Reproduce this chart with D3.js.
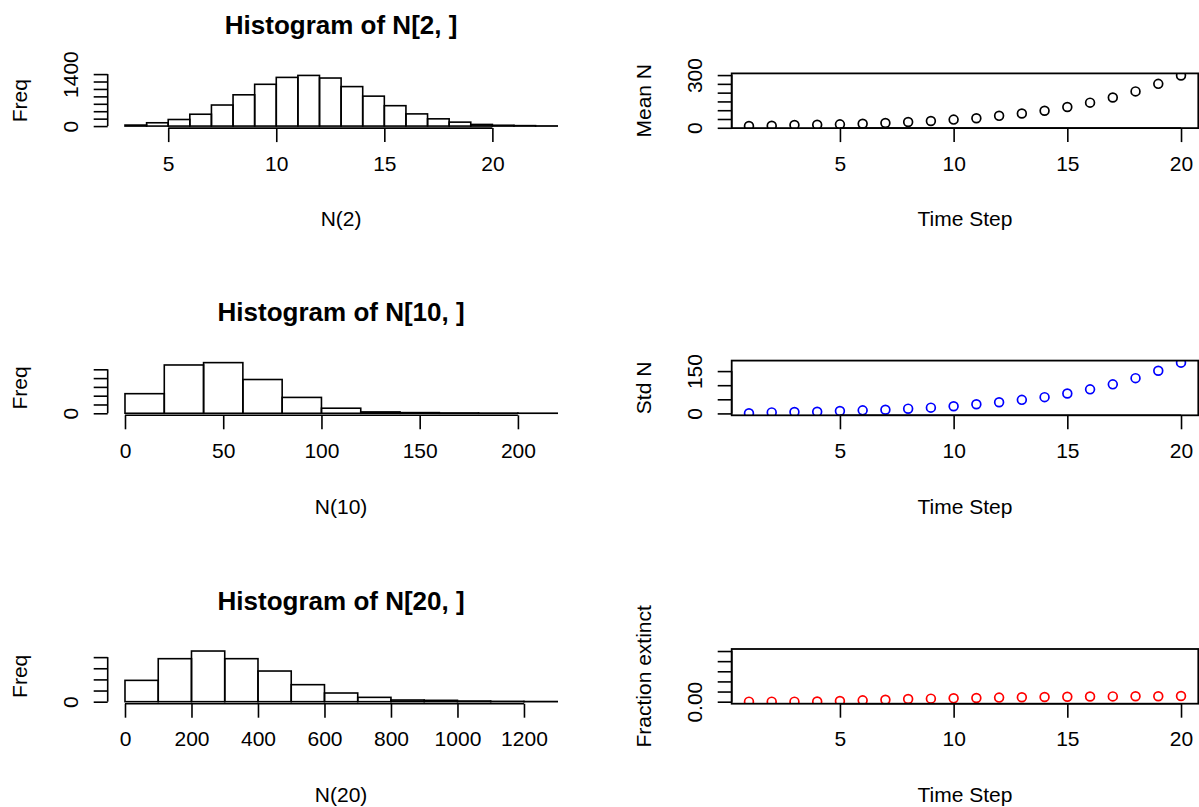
<!DOCTYPE html>
<html>
<head>
<meta charset="utf-8">
<script src="https://cdn.jsdelivr.net/npm/d3@7"></script>
<style>
  body { margin: 0; background: #fff; }
  svg { display: block; font-family: 'Liberation Sans', Arial, Helvetica, sans-serif; }
</style>
</head>
<body>
<script>
// histogram of N at time step 2, 10 and 20 (bin edges + counts)
const breaks2 = [3, 4, 5, 6, 7, 8, 9, 10, 11, 12, 13, 14, 15, 16, 17, 18, 19, 20, 21, 22, 23]
const counts2 = [27, 89, 177, 319, 567, 842, 1125, 1311, 1364, 1294, 1063, 806, 549, 328, 195, 106, 44, 22, 12, 4]
const breaks10 = [0, 20, 40, 60, 80, 100, 120, 140, 160, 180, 200, 220]
const counts10 = [1114, 2746, 2880, 1920, 902, 288, 77, 38, 19, 10, 4]
const breaks20 = [0, 100, 200, 300, 400, 500, 600, 700, 800, 900, 1000, 1100, 1200, 1300]
const counts20 = [957, 1930, 2274, 1930, 1376, 763, 389, 194, 75, 60, 30, 15, 7]

// summary per time step
const timeSteps = [1, 2, 3, 4, 5, 6, 7, 8, 9, 10, 11, 12, 13, 14, 15, 16, 17, 18, 19, 20]
const meanN = [9.7, 11.6, 15.5, 17.4, 19.4, 23, 27, 33, 39, 46.5, 54, 68, 81, 97, 118, 143, 172, 207, 250, 298]
const stdN = [0.5, 3.6, 4.8, 6, 8.4, 10.8, 13.2, 16.8, 20.4, 25.2, 32.4, 39.6, 48, 57.6, 70.8, 85.2, 103, 125, 151, 180]
const fracExtinct = [0, 0, 0, 0.0005, 0.003, 0.0065, 0.0095, 0.013, 0.015, 0.0165, 0.018, 0.02, 0.0215, 0.023, 0.0245, 0.0255, 0.026, 0.0265, 0.027, 0.028]

// ticks and which tick labels R managed to print
const xTicks2 = [5, 10, 15, 20]
const yTicks2 = [0, 200, 400, 600, 800, 1000, 1200, 1400]
const yLabels2 = [0, 1400]
const xTicks10 = [0, 50, 100, 150, 200]
const yTicks10 = [0, 500, 1000, 1500, 2000, 2500]
const yLabels10 = [0]
const xTicks20 = [0, 200, 400, 600, 800, 1000, 1200]
const yTicks20 = [0, 500, 1000, 1500, 2000]
const yLabels20 = [0]
const xTicksTime = [5, 10, 15, 20]
const yTicksMean = [0, 50, 100, 150, 200, 250, 300]
const yLabelsMean = [0, 300]
const yTicksStd = [0, 50, 100, 150]
const yLabelsStd = [0, 150]
const yTicksFrac = [0, 0.05, 0.1, 0.15, 0.2, 0.25]
const yLabelsFrac = [0]
const fracLimits = [0, 0.25]

const W = 1199, H = 807
const fs = 21, titleFs = 26
const tick = 14
const lw = 1.6
const rowTops = [73.4, 360.6, 649]
const plotH = 54.7
const leftCol = { x0: 107.7, x1: 574.5 }
const rightCol = { x0: 731.7, x1: 1198.3 }

const svg = d3.select('body').append('svg')
  .attr('width', W)
  .attr('height', H)

svg.append('rect').attr('width', W).attr('height', H).attr('fill', '#fff')

// R style 4% padding of the axis range
const pad = ([a, b]) => [a - 0.04 * (b - a), b + 0.04 * (b - a)]

function drawAxes(g, x, y, xt, yt, yShown, yFmt, box) {
  const bottom = y.range()[0], left = x.range()[0]
  // x axis: line only from first to last tick, like base R
  const ax = g.append('g')
    .attr('transform', `translate(0,${bottom})`)
    .call(d3.axisBottom(x).tickValues(xt).tickFormat(d3.format('d'))
      .tickSizeInner(tick).tickSizeOuter(0).tickPadding(35 - 0.35 * fs - tick))
  ax.select('.domain').remove()
  ax.append('line')
    .attr('x1', x(xt[0])).attr('x2', x(xt[xt.length - 1]))
    .attr('stroke', '#000').attr('stroke-width', lw)
  ax.selectAll('.tick line').attr('stroke', '#000').attr('stroke-width', lw)
  ax.selectAll('.tick text').attr('fill', '#000').style('font-size', fs + 'px').style('font-family', null)

  // y axis, labels parallel to the axis
  const ay = g.append('g')
    .attr('transform', `translate(${left},0)`)
    .call(d3.axisLeft(y).tickValues(yt).tickSizeInner(tick).tickSizeOuter(0)
      .tickFormat(d => yShown.includes(d) ? yFmt(d) : ''))
  ay.select('.domain').remove()
  ay.append('line')
    .attr('y1', y(yt[0])).attr('y2', y(yt[yt.length - 1]))
    .attr('stroke', '#000').attr('stroke-width', lw)
  ay.selectAll('.tick line').attr('stroke', '#000').attr('stroke-width', lw)
  ay.selectAll('.tick text')
    .attr('x', null).attr('dy', '0.35em')
    .attr('text-anchor', 'middle')
    .attr('transform', 'translate(-36.7,0) rotate(-90)')
    .attr('fill', '#000').style('font-size', fs + 'px').style('font-family', null)

  if (box) {
    g.append('rect')
      .attr('x', x.range()[0]).attr('y', y.range()[1])
      .attr('width', x.range()[1] - x.range()[0])
      .attr('height', y.range()[0] - y.range()[1])
      .attr('fill', 'none').attr('stroke', '#000').attr('stroke-width', 1.8)
  }
}

function labels(g, x, y, xlab, ylab, main) {
  const bottom = y.range()[0], top = y.range()[1]
  const left = x.range()[0], cx = (x.range()[0] + x.range()[1]) / 2
  const cy = (top + bottom) / 2
  g.append('text')
    .attr('x', cx).attr('y', bottom + 91).attr('dy', '0.35em')
    .attr('text-anchor', 'middle').style('font-size', fs + 'px')
    .text(xlab)
  g.append('text')
    .attr('transform', `translate(${left - 88},${cy}) rotate(-90)`)
    .attr('dy', '0.35em')
    .attr('text-anchor', 'middle').style('font-size', fs + 'px')
    .text(ylab)
  if (main) {
    g.append('text')
      .attr('x', cx).attr('y', top - 48.5).attr('dy', '0.35em')
      .attr('text-anchor', 'middle').style('font-size', titleFs + 'px').style('font-weight', 'bold')
      .text(main)
  }
}

function histPanel(row, breaks, counts, xt, yt, yShown, main, xlab) {
  const top = rowTops[row]
  const x = d3.scaleLinear().domain(pad([breaks[0], breaks[breaks.length - 1]])).range([leftCol.x0, leftCol.x1])
  const y = d3.scaleLinear().domain(pad([0, d3.max(counts)])).range([top + plotH, top])
  const g = svg.append('g')
  const bins = counts.map((c, i) => ({ x0: breaks[i], x1: breaks[i + 1], n: c }))
  g.selectAll('rect.bar')
    .data(bins).enter().append('rect')
    .attr('class', 'bar')
    .attr('x', d => x(d.x0))
    .attr('y', d => y(d.n))
    .attr('width', d => x(d.x1) - x(d.x0))
    .attr('height', d => y(0) - y(d.n))
    .attr('fill', 'none')
    .attr('stroke', '#000')
    .attr('stroke-width', lw)
  drawAxes(g, x, y, xt, yt, yShown, d3.format('d'), false)
  labels(g, x, y, xlab, 'Freq', main)
}

function pointPanel(row, values, ylim, yt, yShown, yFmt, color, ylab, id) {
  const top = rowTops[row]
  const x = d3.scaleLinear().domain(pad(d3.extent(timeSteps))).range([rightCol.x0, rightCol.x1])
  const y = d3.scaleLinear().domain(pad(ylim)).range([top + plotH, top])
  const g = svg.append('g')
  g.append('clipPath').attr('id', id)
    .append('rect')
    .attr('x', rightCol.x0).attr('y', top)
    .attr('width', rightCol.x1 - rightCol.x0).attr('height', plotH)
  g.append('g').attr('clip-path', `url(#${id})`)
    .selectAll('circle')
    .data(values).enter().append('circle')
    .attr('cx', (d, i) => x(timeSteps[i]))
    .attr('cy', d => y(d))
    .attr('r', 4.4)
    .attr('fill', 'none')
    .attr('stroke', color)
    .attr('stroke-width', 1.7)
  drawAxes(g, x, y, xTicksTime, yt, yShown, yFmt, true)
  labels(g, x, y, 'Time Step', ylab, null)
}

histPanel(0, breaks2, counts2, xTicks2, yTicks2, yLabels2, 'Histogram of N[2, ]', 'N(2)')
histPanel(1, breaks10, counts10, xTicks10, yTicks10, yLabels10, 'Histogram of N[10, ]', 'N(10)')
histPanel(2, breaks20, counts20, xTicks20, yTicks20, yLabels20, 'Histogram of N[20, ]', 'N(20)')

pointPanel(0, meanN, d3.extent(meanN), yTicksMean, yLabelsMean, d3.format('d'), '#000000', 'Mean N', 'clipMean')
pointPanel(1, stdN, d3.extent(stdN), yTicksStd, yLabelsStd, d3.format('d'), '#0000ff', 'Std N', 'clipStd')
pointPanel(2, fracExtinct, fracLimits, yTicksFrac, yLabelsFrac, d3.format('.2f'), '#ff0000', 'Fraction extinct', 'clipFrac')
</script>
</body>
</html>
